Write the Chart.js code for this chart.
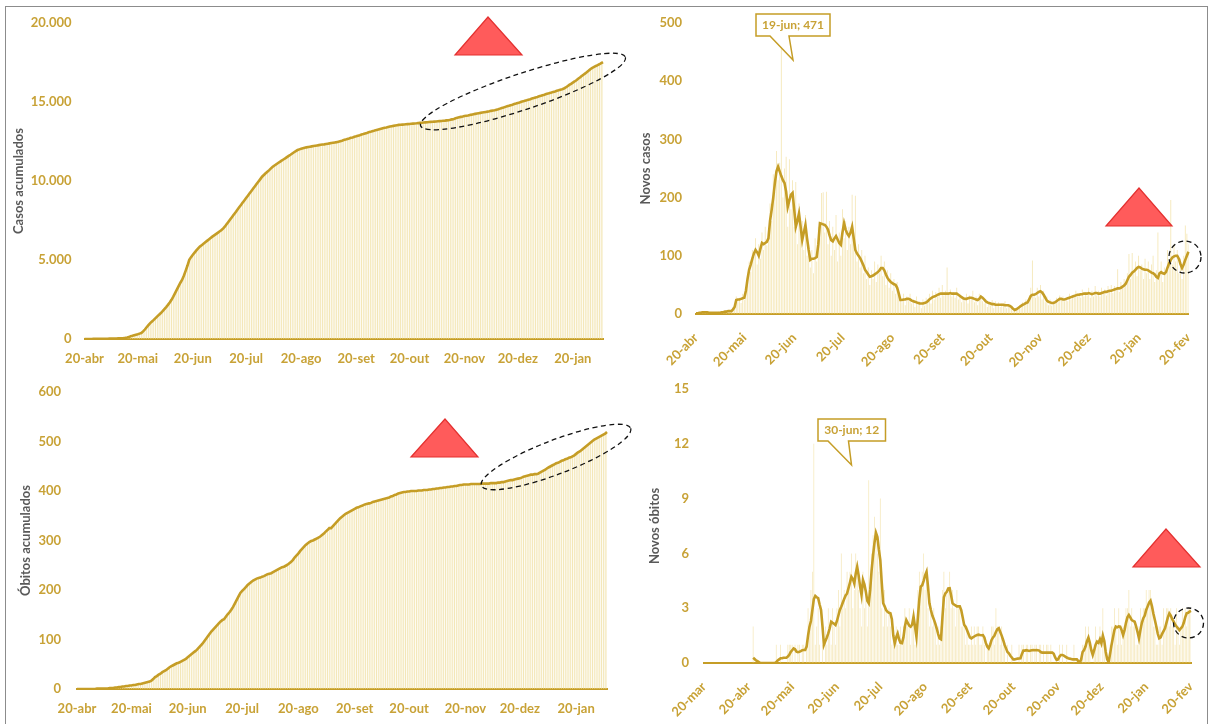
<!DOCTYPE html>
<html>
<head>
<meta charset="utf-8">
<script src="https://cdn.jsdelivr.net/npm/chart.js@4.4.1/dist/chart.umd.min.js"></script>
<style>
html,body{margin:0;padding:0;background:#fff;width:1211px;height:724px;overflow:hidden;}
#frame{position:absolute;left:5px;top:6px;width:1201px;height:740px;border:1px solid #8c8c8c;}
.box{position:absolute;}
</style>
</head>
<body>
<div id="frame"></div>
<div class="box" style="left:6px;top:8px;width:628px;height:364px"><canvas id="c1"></canvas></div>
<div class="box" style="left:634px;top:8px;width:574px;height:364px"><canvas id="c2"></canvas></div>
<div class="box" style="left:6px;top:374px;width:628px;height:350px"><canvas id="c3"></canvas></div>
<div class="box" style="left:634px;top:374px;width:574px;height:350px"><canvas id="c4"></canvas></div>
<script>
// ---------------- DATA ----------------
const xTickLabels = ['20-mar','20-abr','20-mai','20-jun','20-jul','20-ago','20-set','20-out','20-nov','20-dez','20-jan','20-fev'];

// Casos acumulados (daily, from 20-abr)
const casosAcumulados = [
0,1,2,3,4,5,6,8,10,12,
14,16,18,20,22,25,28,31,35,40,
45,52,60,75,95,120,170,200,235,270,
300,340,380,480,600,740,880,1010,1110,1210,
1320,1430,1540,1640,1760,1890,2020,2160,2310,2480,
2680,2900,3120,3350,3560,3750,4020,4330,4650,5010,
5180,5330,5470,5610,5740,5850,5940,6030,6120,6210,
6300,6390,6480,6560,6640,6720,6800,6880,6990,7110,
7260,7410,7560,7710,7860,8010,8170,8320,8470,8620,
8770,8920,9070,9220,9370,9520,9670,9820,9970,10120,
10270,10380,10490,10590,10690,10800,10900,10980,11060,11140,
11210,11290,11360,11430,11510,11590,11660,11740,11820,11890,
11960,12000,12040,12070,12100,12130,12150,12170,12190,12210,
12230,12250,12270,12290,12310,12320,12340,12360,12380,12400,
12420,12440,12460,12490,12520,12550,12590,12620,12660,12690,
12730,12760,12800,12830,12870,12900,12940,12970,13010,13040,
13080,13110,13150,13180,13220,13250,13280,13310,13340,13370,
13390,13420,13450,13470,13490,13510,13530,13550,13560,13570,
13580,13590,13600,13610,13620,13630,13640,13650,13665,13680,
13690,13700,13710,13720,13730,13740,13750,13760,13770,13780,
13790,13800,13810,13820,13835,13850,13870,13900,13930,13970,
14010,14040,14060,14080,14110,14130,14150,14180,14200,14230,
14250,14270,14290,14310,14330,14350,14370,14390,14410,14440,
14460,14480,14510,14540,14580,14620,14650,14690,14730,14760,
14800,14830,14870,14900,14940,14970,15010,15040,15080,15110,
15150,15180,15220,15250,15290,15320,15360,15390,15430,15460,
15500,15530,15570,15600,15640,15670,15710,15740,15780,15810,
15850,15920,16000,16080,16150,16230,16300,16380,16470,16550,
16640,16730,16810,16900,16990,17090,17160,17220,17280,17330,
17390,17460,17530];

// Novos casos (daily, from 20-abr)
const novosCasos = [
0,2,1,4,3,5,2,3,1,2,
3,1,2,0,4,2,3,5,2,6,
4,7,5,9,15,30,22,28,19,35,
24,45,68,90,72,110,98,130,85,120,
95,140,110,150,118,135,190,160,240,210,
280,230,260,471,200,250,270,150,266,180,
230,150,227,120,190,140,160,110,170,100,
120,80,110,70,130,90,150,130,208,209,
140,210,120,160,100,150,110,170,90,140,
100,180,130,160,110,150,120,205,140,203,
90,120,80,110,70,100,60,80,50,75,
60,90,55,85,70,100,65,90,50,75,
45,70,40,60,35,55,30,28,20,35,
15,30,22,35,18,25,12,30,15,22,
10,25,14,28,20,35,18,40,25,38,
30,45,28,50,32,40,80,35,42,30,
38,28,45,25,35,20,30,22,35,18,
32,25,40,20,30,15,35,28,22,18,
25,12,20,15,24,10,22,14,20,12,
18,14,22,10,16,12,8,5,10,6,
12,15,10,20,14,25,18,30,45,92,
35,28,45,30,50,25,40,20,30,15,
25,14,22,18,28,20,32,24,30,22,
28,22,35,25,32,28,40,30,36,28,
42,30,38,32,45,28,40,30,48,32,
40,30,45,35,42,32,48,38,50,36,
48,40,77,38,55,45,60,50,70,103,
60,105,70,90,65,100,75,85,60,95,
70,90,60,85,100,55,75,140,65,90,
55,80,70,110,95,196,85,120,90,110,
70,95,60,100,152,138,120];

// Novos casos - média móvel
const novosCasosMedia = [
1,1,2,2,3,3,3,3,2,2,
2,2,2,2,2,2,3,3,4,4,
5,5,5,8,12,24,25,25,26,27,
28,40,60,76,85,95,104,110,106,100,
112,122,120,122,124,130,160,179,200,225,
245,253,245,237,230,225,210,184,195,205,
208,180,150,160,173,150,127,140,153,130,
110,93,95,95,96,98,120,156,155,154,
153,150,145,135,127,125,130,134,128,122,
119,140,156,145,138,134,140,150,130,110,
104,100,96,90,84,76,72,68,64,65,
66,68,70,72,75,79,79,75,68,62,
58,55,53,51,50,45,35,24,24,25,
25,26,26,25,23,22,21,20,19,18,
18,18,19,20,22,25,27,29,30,31,
33,34,35,35,35,35,35,35,36,35,
35,35,35,33,31,29,27,26,26,27,
28,28,27,26,25,24,26,30,28,25,
22,20,19,18,17,17,16,16,16,16,
16,16,15,15,15,14,12,9,7,8,
10,12,14,16,17,19,20,25,31,33,
33,34,36,38,39,37,33,28,23,21,
20,19,19,20,22,24,26,26,25,25,
26,27,28,29,30,31,32,33,33,34,
34,35,35,35,36,35,34,35,36,36,
35,35,36,37,38,38,39,40,40,41,
42,43,44,44,45,47,49,52,58,64,
67,71,73,76,79,81,80,78,77,76,
76,75,73,71,70,68,64,62,70,72,
70,69,72,80,87,93,97,99,100,100,
95,86,79,85,93,100,107];

// Óbitos acumulados (daily, from 20-abr)
const obitosAcumulados = [
0,0,0,0,0,0,0,0,0,0,
0,1,1,1,1,1,1,1,2,2,
2,3,3,4,4,5,5,6,6,7,
7,8,8,9,10,10,11,12,13,14,
15,17,20,24,26,29,31,34,36,38,
41,44,46,48,50,52,53,55,57,59,
61,64,67,70,73,76,79,83,87,91,
96,101,106,111,116,120,124,128,132,136,
139,141,146,151,155,160,166,173,180,187,
194,198,202,206,210,213,216,219,221,223,
224,225,227,228,230,232,233,234,236,238,
240,242,244,246,247,249,251,254,257,261,
266,270,274,279,283,287,291,294,297,299,
300,302,304,306,308,311,314,318,321,325,
325,329,333,337,341,345,348,351,354,356,
358,360,362,364,366,367,369,370,372,373,
374,375,376,378,379,380,381,382,383,384,
385,386,387,389,390,392,393,395,396,397,
398,398,399,399,400,400,400,400,401,401,
401,402,402,402,403,403,404,404,405,405,
406,406,407,407,408,408,409,409,410,410,
411,412,412,413,413,413,413,414,414,414,
414,414,414,415,415,415,415,415,416,416,
416,416,417,417,418,418,419,420,421,422,
422,423,424,425,426,427,429,430,431,432,
433,433,434,434,435,437,439,441,443,446,
448,450,452,454,456,457,459,461,462,464,
465,467,468,470,472,475,478,480,483,486,
489,492,495,498,501,504,506,508,510,512,
514,516,519];

// Novos óbitos (daily, from 20-mar)
const novosObitos = [
0,0,0,0,0,0,0,0,0,0,
0,0,0,0,0,0,0,0,0,0,
0,0,0,0,0,0,0,0,0,0,
0,0,0,0,2,0,0,0,0,0,
0,0,0,0,0,0,0,0,0,0,
1,0,0,1,0,0,0,0,1,1,
1,1,0,1,0,1,1,0,1,1,
0,1,3,2,4,5,12,1,2,3,
1,0,1,0,2,1,3,2,1,3,
2,1,3,4,2,6,3,4,3,5,
4,5,6,3,4,6,5,4,3,2,
5,3,4,2,10,4,6,7,8,7,
6,5,9,3,2,4,3,2,3,2,
1,2,1,2,1,1,2,1,2,3,
2,2,3,1,2,3,1,2,4,5,
4,5,6,4,5,3,2,3,2,3,
2,1,2,1,2,4,5,3,4,4,
5,3,4,3,2,4,3,3,2,2,
2,1,2,1,1,2,1,2,1,2,
2,1,1,2,1,0,1,1,1,2,
2,1,3,2,2,1,2,1,1,0,
1,0,0,1,0,0,0,0,1,0,
1,1,0,1,1,0,1,1,0,1,
1,0,1,1,0,1,0,1,1,0,
1,0,0,0,0,0,1,0,1,0,
0,1,0,0,0,0,1,0,0,0,
0,0,1,1,2,1,2,1,0,0,
1,2,1,1,2,0,3,1,0,0,
0,1,2,2,3,2,1,3,2,1,
2,2,3,3,4,2,3,2,2,1,
1,2,3,2,3,3,4,3,4,4,
3,2,2,1,1,2,2,1,3,2,
3,3,2,3,2,2,1,3,2,1,
2,3,2,3,2,3,3,3];

// Novos óbitos - média móvel
const novosObitosMedia = [
null,null,null,null,null,null,null,null,null,null,
null,null,null,null,null,null,null,null,null,null,
null,null,null,null,null,null,null,null,null,null,
null,null,null,null,0.29,0.22,0.14,0.1,0.05,0,
0,0,0,0,0,0,0,0,0,0,
0.05,0.14,0.2,0.26,0.26,0.29,0.29,0.29,0.35,0.45,
0.6,0.7,0.8,0.75,0.62,0.6,0.62,0.65,0.7,0.71,
0.71,0.9,1.5,1.99,2.3,2.9,3.5,3.67,3.6,3.55,
3.2,2.9,2.0,1.0,1.2,1.4,1.62,1.9,2.26,2.2,
2.15,2.08,2.3,2.6,2.9,3.08,3.3,3.5,3.7,3.81,
4.1,4.4,4.72,4.6,4.35,4.9,5.27,4.8,4.2,3.72,
4.54,4.3,3.9,3.4,3.27,4.0,5.09,5.9,6.6,7.13,
6.9,6.2,5.64,4.4,3.27,3.1,2.9,2.8,2.75,2.72,
2.4,1.5,1.08,1.4,1.62,1.3,1.1,1.08,1.4,2.0,
2.35,2.2,2.05,1.99,2.1,2.54,2.0,1.44,2.5,3.5,
4.18,4.26,4.5,4.8,5.0,4.2,3.27,2.9,2.6,2.4,
2.17,1.9,1.6,1.35,1.3,2.5,3.6,3.81,3.9,4.08,
4.09,3.7,3.27,3.2,3.15,3.1,3.1,3.1,2.9,2.5,
2.1,1.99,1.8,1.6,1.4,1.35,1.4,1.45,1.5,1.53,
1.55,1.53,1.52,1.53,1.4,1.1,0.9,0.8,1.0,1.26,
1.4,1.5,1.7,1.85,1.9,1.7,1.5,1.26,1.0,0.8,
0.6,0.53,0.4,0.3,0.2,0.2,0.22,0.24,0.25,0.26,
0.5,0.68,0.68,0.7,0.68,0.66,0.68,0.7,0.71,0.7,
0.71,0.7,0.68,0.6,0.57,0.57,0.57,0.57,0.57,0.57,
0.57,0.57,0.5,0.3,0.17,0.2,0.35,0.44,0.44,0.4,
0.35,0.3,0.26,0.24,0.22,0.2,0.2,0.2,0.2,0.1,
0,0.2,0.6,0.71,0.9,1.2,1.39,1.1,0.7,0.44,
0.7,1.0,1.17,1.1,1.3,1.08,1.5,1.2,0.6,0.2,
0.05,0.5,0.99,1.4,1.8,1.99,1.95,2.0,1.99,1.8,
1.53,1.8,2.2,2.5,2.63,2.5,2.35,2.3,2.26,2.0,
1.7,1.35,1.8,2.2,2.45,2.6,2.9,3.1,3.3,3.41,
3.1,2.7,2.35,2.0,1.6,1.35,1.4,1.6,1.75,1.9,
2.2,2.5,2.72,2.6,2.4,2.26,2.1,2.0,1.9,1.8,
1.9,1.99,2.2,2.5,2.72,2.75,2.81,2.85];

// ---------------- STYLE ----------------
const GOLD = '#C59D26';
const TICK_GOLD = '#C8A236';
const TITLE_GRAY = '#595959';
const FONT = 'Lato, "Open Sans", sans-serif';

const MONTHS = ['jan','fev','mar','abr','mai','jun','jul','ago','set','out','nov','dez'];
function dayLabels(y, m, d, n) {
  const out = [];
  for (let i = 0; i < n; i++) {
    const dt = new Date(Date.UTC(y, m - 1, d + i));
    out.push(dt.getUTCDate() + '-' + MONTHS[dt.getUTCMonth()]);
  }
  return out;
}
function fmtThousands(v) {
  return String(v).replace(/\B(?=(\d{3})+(?!\d))/g, '.');
}

function decoPlugin(items, ox, oy) {
  return {
    id: 'deco',
    afterDraw(chart) {
      const ctx = chart.ctx;
      ctx.save();
      items.forEach(it => {
        if (it.t === 'tri') {
          ctx.beginPath();
          ctx.moveTo(it.apex[0] - ox, it.apex[1] - oy);
          ctx.lineTo(it.base[0][0] - ox, it.base[0][1] - oy);
          ctx.lineTo(it.base[1][0] - ox, it.base[1][1] - oy);
          ctx.closePath();
          ctx.fillStyle = '#FF5B5B';
          ctx.fill();
          ctx.lineWidth = 1.2;
          ctx.strokeStyle = '#E3302F';
          ctx.setLineDash([]);
          ctx.stroke();
        } else if (it.t === 'ell') {
          ctx.beginPath();
          ctx.ellipse(it.c[0] - ox, it.c[1] - oy, it.rx, it.ry, it.rot * Math.PI / 180, 0, Math.PI * 2);
          ctx.setLineDash([5, 3.5]);
          ctx.lineWidth = 1.3;
          ctx.strokeStyle = '#111';
          ctx.stroke();
          ctx.setLineDash([]);
        } else if (it.t === 'callout') {
          const [x0, y0, x1, y1] = it.box.map((v, i) => v - (i % 2 ? oy : ox));
          const pl = it.ptr[0][0] - ox, pr = it.ptr[1][0] - ox;
          const tx = it.ptr[2][0] - ox, ty = it.ptr[2][1] - oy;
          ctx.beginPath();
          ctx.moveTo(x0, y0);
          ctx.lineTo(x1, y0);
          ctx.lineTo(x1, y1);
          ctx.lineTo(pr, y1);
          ctx.lineTo(tx, ty);
          ctx.lineTo(pl, y1);
          ctx.lineTo(x0, y1);
          ctx.closePath();
          ctx.fillStyle = '#fff';
          ctx.fill();
          ctx.setLineDash([]);
          ctx.lineWidth = 1.5;
          ctx.strokeStyle = GOLD;
          ctx.stroke();
          ctx.fillStyle = TICK_GOLD;
          ctx.font = 'bold 12px ' + FONT;
          ctx.textAlign = 'center';
          ctx.textBaseline = 'middle';
          ctx.fillText(it.text, (x0 + x1) / 2, (y0 + y1) / 2 + 0.5);
        }
      });
      ctx.restore();
    }
  };
}

function makeChart(cfg) {
  const canvas = document.getElementById(cfg.id);
  const box = canvas.parentElement;
  const W = box.clientWidth, H = box.clientHeight;
  const a = cfg.area;
  const labels = cfg.labels;
  return new Chart(canvas, {
    data: {
      labels: labels,
      datasets: [
        {
          type: 'line',
          data: cfg.line,
          borderColor: GOLD,
          borderWidth: 2.6,
          pointRadius: 0,
          tension: 0,
          spanGaps: false,
          order: 0
        },
        {
          type: 'bar',
          data: cfg.bars,
          backgroundColor: cfg.barColor,
          borderWidth: 0,
          barPercentage: cfg.barPct,
          categoryPercentage: 1,
          order: 1
        }
      ]
    },
    options: {
      responsive: true,
      maintainAspectRatio: false,
      animation: false,
      events: [],
      layout: { padding: { left: 0, top: a.top, right: W - a.right, bottom: 0 } },
      plugins: { legend: { display: false }, tooltip: { enabled: false } },
      scales: {
        x: {
          type: 'category',
          offset: false,
          grid: { display: false, drawTicks: false, tickLength: 0 },
          border: { display: true, color: GOLD, width: 2 },
          ticks: {
            autoSkip: false,
            maxRotation: cfg.rot,
            minRotation: cfg.rot,
            padding: cfg.xPad,
            color: TICK_GOLD,
            font: { family: FONT, size: 13, weight: 'bold' },
            callback: (v, i) => (xTickLabels.indexOf(labels[i]) >= 0 ? labels[i] : '')
          },
          afterFit: s => { s.height = H - a.bottom; s.paddingLeft = 0; s.paddingRight = 0; }
        },
        y: {
          min: 0,
          max: cfg.yMax,
          grid: { display: false, drawTicks: false, tickLength: 0 },
          border: { display: false },
          ticks: {
            stepSize: cfg.yStep,
            padding: cfg.yPad,
            color: TICK_GOLD,
            font: { family: FONT, size: 13, weight: 'bold' },
            callback: v => cfg.thousands ? fmtThousands(v) : String(v)
          },
          title: {
            display: true,
            text: cfg.title,
            color: TITLE_GRAY,
            font: { family: FONT, size: 13, weight: 'bold' },
            padding: { top: cfg.titlePad, bottom: 0 }
          },
          afterFit: s => { s.width = a.left; s.paddingTop = 0; s.paddingBottom = 0; }
        }
      }
    },
    plugins: [decoPlugin(cfg.deco, box.offsetLeft, box.offsetTop)]
  });
}

function drawAll() {
  const labelsAbr293 = dayLabels(2020, 4, 20, casosAcumulados.length);
  const labelsAbr307 = dayLabels(2020, 4, 20, novosCasos.length);
  const labelsMar338 = dayLabels(2020, 3, 20, novosObitos.length);

  makeChart({
    id: 'c1', labels: labelsAbr293, line: casosAcumulados, bars: casosAcumulados,
    barColor: 'rgba(238, 220, 150, 0.7)', barPct: 0.55,
    area: { left: 78.5, top: 15, right: 597, bottom: 331 },
    yMax: 20000, yStep: 5000, thousands: true, yPad: 13, xPad: 12, rot: 0,
    title: 'Casos acumulados', titlePad: 4.8,
    deco: [
      { t: 'tri', apex: [488, 17], base: [[455, 55], [522, 55]] },
      { t: 'ell', c: [523, 91.5], rx: 108, ry: 18, rot: -18.5 }
    ]
  });

  makeChart({
    id: 'c2', labels: labelsAbr307, line: novosCasosMedia, bars: novosCasos,
    barColor: 'rgba(236, 212, 125, 0.6)', barPct: 0.5,
    area: { left: 62, top: 15, right: 554.5, bottom: 306 },
    yMax: 500, yStep: 100, thousands: false, yPad: 14, xPad: 16, rot: 45,
    title: 'Novos casos', titlePad: 3.8,
    deco: [
      { t: 'callout', box: [756, 14, 830, 36], ptr: [[770, 36], [789, 36], [793, 60]], text: '19-jun; 471' },
      { t: 'tri', apex: [1139, 188], base: [[1106, 226], [1172, 226]] },
      { t: 'ell', c: [1185, 257], rx: 16, ry: 16, rot: 0 }
    ]
  });

  makeChart({
    id: 'c3', labels: labelsAbr293, line: obitosAcumulados, bars: obitosAcumulados,
    barColor: 'rgba(238, 220, 150, 0.7)', barPct: 0.55,
    area: { left: 71, top: 18, right: 601, bottom: 315 },
    yMax: 600, yStep: 100, thousands: false, yPad: 16, xPad: 12, rot: 0,
    title: 'Óbitos acumulados', titlePad: 11.8,
    deco: [
      { t: 'tri', apex: [445, 419], base: [[411, 457], [478, 457]] },
      { t: 'ell', c: [556, 457], rx: 80, ry: 17, rot: -21 }
    ]
  });

  makeChart({
    id: 'c4', labels: labelsMar338, line: novosObitosMedia, bars: novosObitos,
    barColor: 'rgba(236, 212, 125, 0.55)', barPct: 0.5,
    area: { left: 70, top: 15, right: 557, bottom: 289 },
    yMax: 15, yStep: 3, thousands: false, yPad: 15, xPad: 16, rot: 45,
    title: 'Novos óbitos', titlePad: 12.8,
    deco: [
      { t: 'callout', box: [818, 419, 885.5, 441], ptr: [[828, 441], [848.5, 441], [851.5, 465]], text: '30-jun; 12' },
      { t: 'tri', apex: [1166, 529], base: [[1133, 567], [1200, 567]] },
      { t: 'ell', c: [1188.5, 623], rx: 15, ry: 15, rot: 0 }
    ]
  });
}

if (document.fonts && document.fonts.load) {
  Promise.all([
    document.fonts.load('bold 13px Lato'),
    document.fonts.load('bold 12px Lato')
  ]).then(drawAll, drawAll);
} else {
  drawAll();
}
</script>
</body>
</html>
